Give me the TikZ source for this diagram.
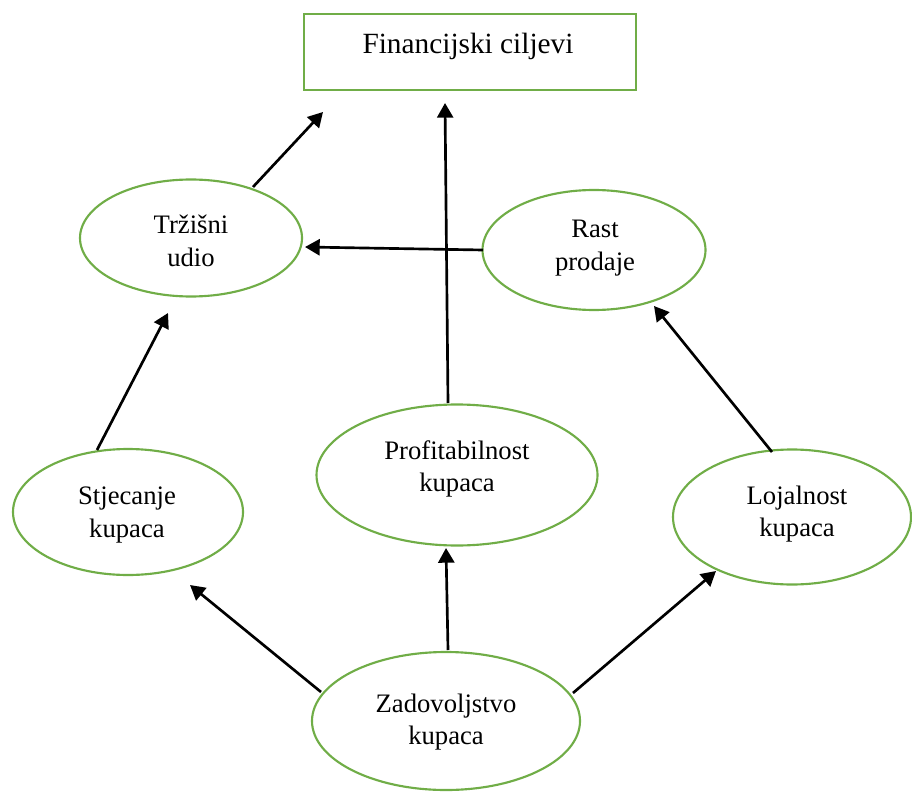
\documentclass[tikz,border=0pt]{standalone}
\usepackage{fontspec}
\setmainfont{Liberation Serif}
\usetikzlibrary{shapes.geometric,arrows.meta}
\definecolor{gr}{HTML}{70AD47}
\tikzset{
  ell/.style={ellipse,draw=gr,line width=1.6pt,inner sep=0pt},
  txt/.style={align=center,font=\fontsize{20}{24.5}\selectfont,inner sep=0pt},
  arr/.style={line width=2pt,-{Triangle[length=11pt,width=12pt]}}
}
\begin{document}
\begin{tikzpicture}[x=0.75pt,y=-0.75pt]
\useasboundingbox (0,0) rectangle (912,791);
\node[draw=gr,line width=1.7pt,minimum width=249pt,minimum height=57pt,inner sep=0pt] (fc) at (470,52) {};
\node[txt,font=\fontsize{22}{25}\selectfont] (fct) at (468,46) {Financijski ciljevi};
\node[ell,minimum width=166.5pt,minimum height=87.75pt] (tu) at (191,238) {};
\node[txt] (tut) at (191,241) {Tržišni\\udio};
\node[ell,minimum width=167.25pt,minimum height=90pt] (rp) at (594,250) {};
\node[txt] (rpt) at (595,248) {Rast\\prodaje};
\node[ell,minimum width=172.5pt,minimum height=94.5pt] (sk) at (128,512) {};
\node[txt] (skt) at (127,515) {Stjecanje\\kupaca};
\node[ell,minimum width=210.75pt,minimum height=105.75pt] (pk) at (457,475) {};
\node[txt] (pkt) at (457,469) {Profitabilnost\\kupaca};
\node[ell,minimum width=178.5pt,minimum height=101.25pt] (lk) at (792,517) {};
\node[txt] (lkt) at (797,514) {Lojalnost\\kupaca};
\node[ell,minimum width=201pt,minimum height=103.5pt] (zk) at (446,721) {};
\node[txt] (zkt) at (446,722) {Zadovoljstvo\\kupaca};
% arrow tips
\coordinate (a1) at (323,112);
\coordinate (a2) at (305,247);
\coordinate (a3) at (445,103);
\coordinate (a4) at (168,313);
\coordinate (a5) at (654,306);
\coordinate (a6) at (190,585);
\coordinate (a7) at (446,548);
\coordinate (a8) at (716,571);
% arrow starts
\coordinate (s1) at (253,187);
\coordinate (s2) at (483,250);
\coordinate (s3) at (448,403);
\coordinate (s4) at (97,450);
\coordinate (s5) at (772,452);
\coordinate (s6) at (321,692);
\coordinate (s7) at (448,650);
\coordinate (s8) at (573,693);
\draw[arr] (s1) -- (a1);
\draw[arr] (s2) -- (a2);
\draw[arr] (s3) -- (a3);
\draw[arr] (s4) -- (a4);
\draw[arr] (s5) -- (a5);
\draw[arr] (s6) -- (a6);
\draw[arr] (s7) -- (a7);
\draw[arr] (s8) -- (a8);
\end{tikzpicture}
\end{document}
